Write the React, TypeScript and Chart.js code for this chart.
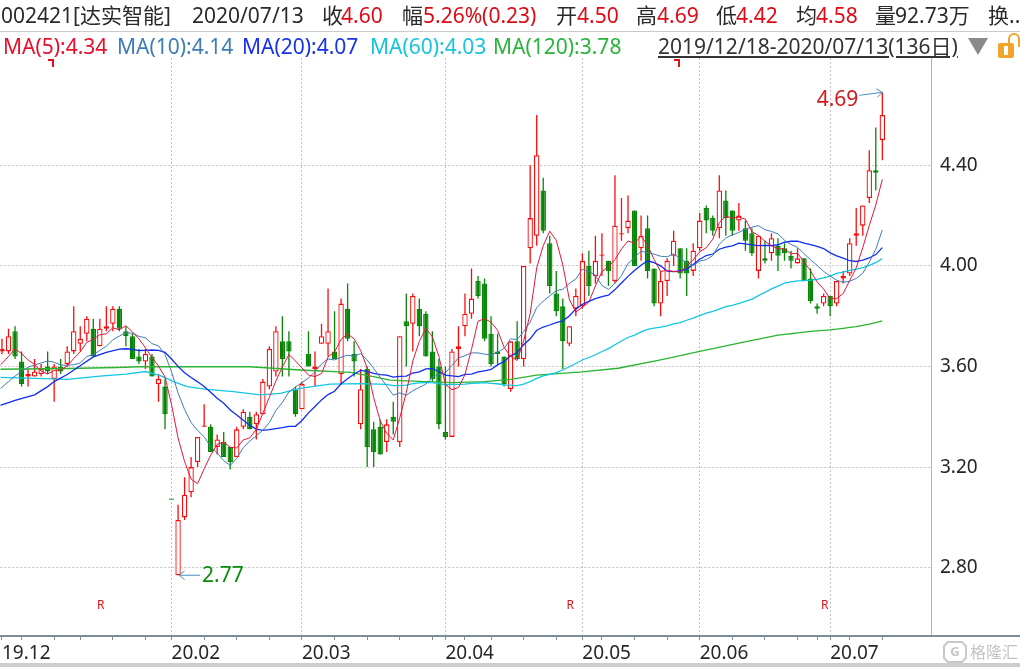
import React, { useEffect, useRef } from 'react';
import { Chart, registerables } from 'chart.js';

Chart.register(...registerables);

// ---------------- data ----------------
const TRADING_DAYS: [number, number, number[]][] = [
  [2019, 12, [18, 19, 20, 23, 24, 25, 26, 27, 30, 31]],
  [2020, 1, [2, 3, 6, 7, 8, 9, 10, 13, 14, 15, 16, 17, 20, 21, 22, 23]],
  [2020, 2, [3, 4, 5, 6, 7, 10, 11, 12, 13, 14, 17, 18, 19, 20, 21, 24, 25, 26, 27, 28]],
  [2020, 3, [2, 3, 4, 5, 6, 9, 10, 11, 12, 13, 16, 17, 18, 19, 20, 23, 24, 25, 26, 27, 30, 31]],
  [2020, 4, [1, 2, 3, 7, 8, 9, 10, 13, 14, 15, 16, 17, 20, 21, 22, 23, 24, 27, 28, 29, 30]],
  [2020, 5, [6, 7, 8, 11, 12, 13, 14, 15, 18, 19, 20, 21, 22, 25, 26, 27, 28, 29]],
  [2020, 6, [1, 2, 3, 4, 5, 8, 9, 10, 11, 12, 15, 16, 17, 18, 19, 22, 23, 24, 29, 30]],
  [2020, 7, [1, 2, 3, 6, 7, 8, 9, 10, 13]],
];

const MONTH_TICKS: [number, string][] = [
  [0, '19.12'], [26, '20.02'], [46, '20.03'], [68, '20.04'], [89, '20.05'], [107, '20.06'], [127, '20.07'],
];
const Y_TICKS = [2.8, 3.2, 3.6, 4.0, 4.4];

const OPEN = [
  3.66, 3.66, 3.74, 3.62, 3.56, 3.56, 3.57, 3.60, 3.55, 3.60,
  3.61, 3.66, 3.69, 3.73, 3.75, 3.68, 3.75, 3.77, 3.83, 3.74,
  3.72, 3.64, 3.62, 3.64, 3.53, 3.52, 3.07, 2.77, 3.00, 3.10,
  3.22, 3.36, 3.36, 3.28, 3.30, 3.28, 3.24, 3.36, 3.40, 3.37,
  3.41, 3.52, 3.58, 3.70, 3.70, 3.51, 3.43, 3.65, 3.59, 3.69,
  3.69, 3.66, 3.57, 3.83, 3.65, 3.37, 3.59, 3.35, 3.36, 3.30,
  3.40, 3.30, 3.78, 3.77, 3.83, 3.81, 3.66, 3.60, 3.34, 3.32,
  3.67, 3.76, 3.81, 3.94, 3.93, 3.73, 3.66, 3.64, 3.51, 3.70,
  3.63, 4.07, 4.12, 4.30, 4.09, 3.89, 3.84, 3.69, 3.83, 3.84,
  4.00, 3.96, 4.04, 4.02, 3.94, 4.125, 4.15, 4.22, 4.07, 4.15,
  3.99, 3.85, 3.94, 4.04, 4.07, 4.02, 3.98, 4.07, 4.23, 4.19,
  4.15, 4.26, 4.22, 4.18, 4.15, 4.13, 3.98, 4.03, 4.05, 4.08,
  4.07, 4.04, 4.01, 4.03, 3.95, 3.84, 3.85, 3.88, 3.85, 3.95,
  3.97, 4.12, 4.16, 4.27, 4.38, 4.50,
];
const HIGH = [
  3.71, 3.75, 3.76, 3.66, 3.59, 3.63, 3.61, 3.66, 3.61, 3.63,
  3.68, 3.84, 3.76, 3.80, 3.79, 3.79, 3.84, 3.84, 3.84, 3.76,
  3.73, 3.67, 3.67, 3.65, 3.57, 3.55, 3.07, 3.05, 3.16, 3.24,
  3.32, 3.45, 3.37, 3.33, 3.34, 3.28, 3.36, 3.43, 3.42, 3.42,
  3.55, 3.68, 3.76, 3.80, 3.74, 3.52, 3.54, 3.74, 3.66, 3.77,
  3.91, 3.82, 3.87, 3.93, 3.70, 3.59, 3.60, 3.38, 3.39, 3.39,
  3.46, 3.72, 3.89, 3.89, 3.87, 3.82, 3.74, 3.63, 3.60, 3.67,
  3.76, 3.89, 3.99, 3.96, 3.95, 3.80, 3.73, 3.64, 3.70, 3.78,
  4.00, 4.40, 4.60, 4.35, 4.12, 3.98, 3.87, 3.76, 3.91, 4.05,
  4.06, 4.12, 4.13, 4.02, 4.36, 4.27, 4.28, 4.22, 4.20, 4.20,
  3.99, 3.98, 4.03, 4.14, 4.07, 4.07, 4.09, 4.21, 4.24, 4.20,
  4.36, 4.30, 4.22, 4.25, 4.18, 4.15, 4.12, 4.10, 4.13, 4.11,
  4.09, 4.06, 4.07, 4.03, 3.99, 3.85, 3.89, 3.88, 3.94, 3.98,
  4.11, 4.23, 4.24, 4.46, 4.55, 4.69,
];
const LOW = [
  3.65, 3.65, 3.63, 3.52, 3.52, 3.56, 3.56, 3.57, 3.46, 3.57,
  3.60, 3.65, 3.66, 3.70, 3.64, 3.68, 3.74, 3.74, 3.74, 3.68,
  3.63, 3.61, 3.59, 3.56, 3.46, 3.35, 3.07, 2.77, 2.99, 3.08,
  3.20, 3.36, 3.26, 3.25, 3.24, 3.19, 3.24, 3.35, 3.35, 3.31,
  3.41, 3.51, 3.56, 3.56, 3.56, 3.40, 3.43, 3.60, 3.52, 3.69,
  3.64, 3.63, 3.53, 3.70, 3.56, 3.35, 3.20, 3.20, 3.25, 3.26,
  3.33, 3.28, 3.60, 3.66, 3.72, 3.64, 3.54, 3.35, 3.31, 3.32,
  3.60, 3.72, 3.79, 3.87, 3.70, 3.60, 3.61, 3.52, 3.50, 3.63,
  3.60, 4.01, 4.08, 4.13, 3.89, 3.80, 3.59, 3.68, 3.80, 3.83,
  3.88, 3.93, 3.96, 3.92, 3.93, 4.10, 4.13, 4.00, 4.02, 3.95,
  3.84, 3.80, 3.88, 4.00, 3.95, 3.88, 3.96, 4.06, 4.13, 4.12,
  4.11, 4.12, 4.12, 4.14, 4.06, 4.04, 3.95, 4.01, 4.02, 3.98,
  4.02, 3.99, 4.01, 3.94, 3.85, 3.81, 3.84, 3.80, 3.84, 3.93,
  3.96, 4.08, 4.12, 4.25, 4.30, 4.42,
];
const CLOSE = [
  3.67, 3.72, 3.64, 3.53, 3.57, 3.58, 3.59, 3.58, 3.60, 3.58,
  3.66, 3.74, 3.71, 3.79, 3.64, 3.75, 3.76, 3.83, 3.75, 3.72,
  3.63, 3.62, 3.65, 3.56, 3.55, 3.41, 3.07, 2.99, 3.09, 3.20,
  3.32, 3.365, 3.26, 3.31, 3.24, 3.22, 3.35, 3.42, 3.35, 3.41,
  3.54, 3.67, 3.74, 3.63, 3.66, 3.41, 3.53, 3.60, 3.60, 3.72,
  3.74, 3.63, 3.85, 3.71, 3.62, 3.51, 3.28, 3.26, 3.25, 3.37,
  3.38, 3.72, 3.76, 3.88, 3.76, 3.64, 3.55, 3.37, 3.32, 3.66,
  3.68, 3.81, 3.87, 3.88, 3.71, 3.61, 3.65, 3.53, 3.70, 3.63,
  4.00, 4.19, 4.44, 4.14, 3.92, 3.82, 3.70, 3.76, 3.88, 4.02,
  3.92, 4.02, 4.045, 3.98, 4.16, 4.13, 4.18, 4.00, 4.12, 3.98,
  3.85, 3.94, 4.02, 4.10, 3.97, 3.97, 4.06, 4.18, 4.18, 4.14,
  4.30, 4.19, 4.14, 4.20, 4.10, 4.05, 4.12, 4.02, 4.11, 4.04,
  4.05, 4.02, 4.03, 3.94, 3.86, 3.83, 3.88, 3.84, 3.94, 3.96,
  4.09, 4.13, 4.24, 4.38, 4.37, 4.60,
];

const MA5_HEAD = [[-0.26, 3.605], [1, 3.64], [2, 3.67], [3, 3.652]];
const MA10_HEAD = [[-0.26, 3.512], [1, 3.54], [2, 3.562], [3, 3.58], [4, 3.597], [5, 3.606], [6, 3.614], [7, 3.622], [8, 3.617]];
const MA20_HEAD = [[-0.26, 3.445], [2, 3.465], [5, 3.487], [7, 3.52], [8, 3.54], [10, 3.568], [12, 3.603], [14, 3.638], [16, 3.656], [18, 3.669]];
const MA60_HEAD = [
  [-0.26, 3.557], [5, 3.553], [10, 3.549], [15, 3.562], [19, 3.57], [22, 3.58], [24.3, 3.564], [26.3, 3.54],
  [28.4, 3.52], [31.4, 3.509], [35.5, 3.5], [39.6, 3.487], [42.7, 3.493], [45.7, 3.513], [50.3, 3.53], [55, 3.532],
];
const MA120_HEAD = [
  [-0.26, 3.589], [10, 3.592], [17.6, 3.596], [21, 3.599], [30, 3.599], [38, 3.599], [45.7, 3.586], [53.4, 3.577],
  [57, 3.56], [59.5, 3.546], [63, 3.542], [69, 3.536], [74, 3.54], [78, 3.549], [82, 3.566], [89, 3.579],
  [94.5, 3.593], [101, 3.626], [107, 3.66], [113, 3.693],
];

const R_MARK_IDX = [15, 87, 126];
const TOP_MARK_IDX = [8, 104];

// ---------------- derived ----------------
const DATES: Date[] = [];
TRADING_DAYS.forEach(([y, m, days]) => days.forEach((d) => DATES.push(new Date(y, m - 1, d))));
const weekNo = (d: Date) => Math.floor((d.getTime() / 86400000 + 3) / 7);
const WEEK_STARTS = DATES.map((d, i) => (i > 0 && weekNo(d) !== weekNo(DATES[i - 1]) ? i : -1)).filter((i) => i > 0);
const MONTH_SET = new Set(MONTH_TICKS.map(([i]) => i));
const MONTH_LABEL = new Map(MONTH_TICKS);
const X_TICKS = Array.from(new Set([...MONTH_TICKS.map(([i]) => i), ...WEEK_STARTS])).sort((a, b) => a - b);

function movingAverage(closes: number[], n: number, head: number[][]) {
  const pts = head.map(([x, y]) => ({ x, y }));
  for (let i = n - 1; i < closes.length; i++) {
    let s = 0;
    for (let k = i - n + 1; k <= i; k++) s += closes[k];
    pts.push({ x: i, y: s / n });
  }
  return pts;
}

const UP = '#ff0a0a';
const DOWN = '#078507';
const IS_UP = CLOSE.map((c, i) => c > OPEN[i] || (c === OPEN[i] && i > 0 && c >= CLOSE[i - 1]));

const AXIS_COLOR = '#7b8e9c';
const GRID_COLOR = '#c3c3c3';
const FONT = '"Noto Sans", "Noto Sans CJK SC", sans-serif';

function arrow(ctx: CanvasRenderingContext2D, x0: number, y0: number, x1: number, y1: number) {
  ctx.beginPath();
  ctx.moveTo(x0, y0);
  ctx.lineTo(x1, y1);
  const a = Math.atan2(y1 - y0, x1 - x0);
  const L = 7;
  ctx.moveTo(x1 - L * Math.cos(a - 0.65), y1 - L * Math.sin(a - 0.65));
  ctx.lineTo(x1, y1);
  ctx.lineTo(x1 - L * Math.cos(a + 0.65), y1 - L * Math.sin(a + 0.65));
  ctx.stroke();
}

const overlayPlugin = {
  id: 'overlay',
  afterDraw(chart: any) {
    const { ctx, chartArea, scales } = chart;
    const xs = scales.x;
    const ys = scales.y;
    ctx.save();
    // axis line across the whole width
    ctx.strokeStyle = AXIS_COLOR;
    ctx.lineWidth = 2;
    ctx.beginPath();
    ctx.moveTo(0, chartArea.bottom + 1);
    ctx.lineTo(chart.width, chartArea.bottom + 1);
    ctx.stroke();
    // bottom strip
    ctx.fillStyle = '#cdcdcd';
    ctx.fillRect(0, chart.height - 4, chart.width, 4);

    // R markers
    ctx.fillStyle = '#d8151b';
    ctx.font = `12px ${FONT}`;
    ctx.textAlign = 'center';
    ctx.textBaseline = 'middle';
    R_MARK_IDX.forEach((i) => ctx.fillText('R', xs.getPixelForValue(i) + 1, chartArea.bottom - 29));

    // top markers
    ctx.strokeStyle = '#e0101a';
    ctx.lineWidth = 2;
    TOP_MARK_IDX.forEach((i) => {
      const px = Math.round(xs.getPixelForValue(i)) - 1;
      ctx.beginPath();
      ctx.moveTo(px - 5, chartArea.top + 2);
      ctx.lineTo(px, chartArea.top + 2);
      ctx.lineTo(px, chartArea.top + 9);
      ctx.stroke();
    });

    // extremes
    let iMax = 0;
    let iMin = 0;
    HIGH.forEach((h, i) => { if (h > HIGH[iMax]) iMax = i; });
    LOW.forEach((l, i) => { if (l < LOW[iMin]) iMin = i; });
    const hx = xs.getPixelForValue(iMax);
    const hy = ys.getPixelForValue(HIGH[iMax]);
    const lx = xs.getPixelForValue(iMin);
    const ly = ys.getPixelForValue(LOW[iMin]);
    ctx.strokeStyle = '#4a8fbd';
    ctx.lineWidth = 1;
    arrow(ctx, hx - 23, hy + 3, hx, hy);
    arrow(ctx, lx + 22, ly, lx + 1, ly);
    ctx.font = `21px ${FONT}`;
    ctx.textBaseline = 'middle';
    ctx.fillStyle = '#d41a1a';
    ctx.textAlign = 'right';
    ctx.fillText(HIGH[iMax].toFixed(2), hx - 24, hy + 8);
    ctx.fillStyle = '#0a8a0a';
    ctx.textAlign = 'left';
    ctx.fillText(LOW[iMin].toFixed(2), lx + 24, ly + 1);

    // watermark
    ctx.strokeStyle = '#c9c9c9';
    ctx.lineWidth = 2;
    const wx = chartArea.right + 12;
    const wy = chartArea.bottom + 7;
    ctx.beginPath();
    ctx.moveTo(wx + 4, wy);
    ctx.lineTo(wx + 18, wy);
    ctx.lineTo(wx + 22, wy + 4);
    ctx.lineTo(wx + 22, wy + 16);
    ctx.lineTo(wx + 18, wy + 20);
    ctx.lineTo(wx + 4, wy + 20);
    ctx.lineTo(wx, wy + 16);
    ctx.lineTo(wx, wy + 4);
    ctx.closePath();
    ctx.stroke();
    ctx.fillStyle = '#c4c4c4';
    ctx.font = `bold 13px ${FONT}`;
    ctx.textAlign = 'center';
    ctx.fillText('G', wx + 11, wy + 10);
    ctx.font = `16px "Noto Sans CJK SC", sans-serif`;
    ctx.textAlign = 'left';
    ctx.fillText('格隆汇', wx + 26, wy + 10);
    ctx.restore();
  },
};

const DARK = '#2a2a2a';
const RED = '#dc0b16';

export default function App() {
  const ref = useRef<HTMLCanvasElement>(null);

  useEffect(() => {
    const canvas = ref.current;
    if (!canvas) return;
    Chart.defaults.font.family = FONT;
    const chart = new Chart(canvas, {
      type: 'bar',
      data: {
        datasets: [
          { type: 'line', label: 'MA5', data: movingAverage(CLOSE, 5, MA5_HEAD), borderColor: '#e3173e', borderWidth: 1, pointRadius: 0, tension: 0, order: 1 },
          { type: 'line', label: 'MA10', data: movingAverage(CLOSE, 10, MA10_HEAD), borderColor: '#3f7db5', borderWidth: 1, pointRadius: 0, tension: 0, order: 1 },
          { type: 'line', label: 'MA20', data: movingAverage(CLOSE, 20, MA20_HEAD), borderColor: '#0f2df2', borderWidth: 1.3, pointRadius: 0, tension: 0, order: 1 },
          { type: 'line', label: 'MA60', data: movingAverage(CLOSE, 60, MA60_HEAD), borderColor: '#12c6e2', borderWidth: 1.3, pointRadius: 0, tension: 0, order: 1 },
          { type: 'line', label: 'MA120', data: movingAverage(CLOSE, 120, MA120_HEAD), borderColor: '#2bb42f', borderWidth: 1.3, pointRadius: 0, tension: 0, order: 1 },
          {
            type: 'bar', label: 'body',
            data: OPEN.map((o, i) => ({ x: i, y: [o, CLOSE[i]] })),
            backgroundColor: IS_UP.map((u) => (u ? '#ffffff' : DOWN)),
            borderColor: IS_UP.map((u) => (u ? UP : DOWN)),
            borderWidth: 1.3, borderSkipped: false, grouped: false,
            barThickness: 5.4, maxBarThickness: 5.4, minBarLength: 1.2, inflateAmount: 0, order: 2,
          },
          {
            type: 'bar', label: 'wick',
            data: LOW.map((l, i) => ({ x: i, y: [l, HIGH[i]] })),
            backgroundColor: IS_UP.map((u) => (u ? UP : DOWN)),
            borderWidth: 0, grouped: false,
            barThickness: 1.3, maxBarThickness: 1.3, inflateAmount: 0, order: 3,
          },
        ] as any,
      },
      options: {
        animation: false,
        responsive: false,
        events: [],
        layout: { padding: { top: 58, left: 0, right: 0, bottom: 0 } },
        plugins: { legend: { display: false }, tooltip: { enabled: false } },
        scales: {
          x: {
            type: 'linear',
            min: -0.26,
            max: 142.62,
            offset: false,
            afterBuildTicks: (s: any) => { s.ticks = X_TICKS.map((v) => ({ value: v })); },
            afterFit: (s: any) => { s.height = 32; },
            grid: {
              offset: false,
              color: (c: any) => (c.tick && MONTH_SET.has(c.tick.value) && c.tick.value !== 0 ? GRID_COLOR : 'rgba(0,0,0,0)'),
              lineWidth: 1,
              drawTicks: true,
              tickLength: 5,
              tickColor: AXIS_COLOR,
              tickWidth: 1,
            },
            border: { display: false, dash: [2, 2] },
            ticks: {
              autoSkip: false, maxRotation: 0, minRotation: 0, align: 'start', padding: 2,
              color: '#262626', font: { size: 19 },
              callback: (v: any) => MONTH_LABEL.get(Number(v)) ?? '',
            },
          },
          y: {
            type: 'linear',
            position: 'right',
            min: 2.5324,
            max: 4.8266,
            afterBuildTicks: (s: any) => { s.ticks = Y_TICKS.map((v) => ({ value: v })); },
            afterFit: (s: any) => { s.width = 88; },
            grid: { color: GRID_COLOR, drawTicks: false, lineWidth: 1 },
            border: { display: true, color: '#b4b4b4', width: 1, dash: [2, 2] },
            ticks: { padding: 8, color: '#262626', font: { size: 19 }, callback: (v: any) => Number(v).toFixed(2) },
          },
        },
      } as any,
      plugins: [overlayPlugin],
    });
    return () => chart.destroy();
  }, []);

  const row1: [number, string, string][] = [
    [1, '002421[达实智能]', DARK], [192, '2020/07/13', DARK],
    [322, '收', DARK], [341, '4.60', RED],
    [402, '幅', DARK], [423, '5.26%(0.23)', RED],
    [556, '开', DARK], [577, '4.50', RED],
    [636, '高', DARK], [657, '4.69', RED],
    [716, '低', DARK], [736, '4.42', RED],
    [796, '均', DARK], [816, '4.58', RED],
    [875, '量', DARK], [895, '92.73万', DARK],
    [988, '换...', DARK],
  ];
  const row2: [number, string, string][] = [
    [3, 'MA(5):4.34', '#e8102a'],
    [117, 'MA(10):4.14', '#3f7db8'],
    [242, 'MA(20):4.07', '#1632e8'],
    [370, 'MA(60):4.03', '#16c4dc'],
    [493, 'MA(120):3.78', '#2ab43c'],
  ];

  const textStyle = (left: number, top: number, color: string): React.CSSProperties => ({
    position: 'absolute', left, top, color, fontSize: 21, lineHeight: '21px', whiteSpace: 'nowrap',
  });

  return (
    <div style={{ position: 'fixed', left: 0, top: 0, width: 1020, height: 667, background: '#ffffff', overflow: 'hidden', fontFamily: FONT }}>
      <canvas ref={ref} width={1020} height={667} style={{ position: 'absolute', left: 0, top: 0, width: 1020, height: 667 }} />
      {row1.map(([l, t, c], k) => (
        <span key={'a' + k} style={textStyle(l, 5, c)}>{t}</span>
      ))}
      <div style={{ position: 'absolute', left: 0, top: 31, width: 1020, height: 1, background: '#cacaca' }} />
      {row2.map(([l, t, c], k) => (
        <span key={'b' + k} style={textStyle(l, 36, c)}>{t}</span>
      ))}
      <span style={{ ...textStyle(658, 36, '#333333'), textDecoration: 'underline' }}>2019/12/18-2020/07/13(136日)</span>
      <div style={{ position: 'absolute', left: 968, top: 38, width: 0, height: 0, borderLeft: '10px solid transparent', borderRight: '10px solid transparent', borderTop: '17px solid #8a8a8a' }} />
      <div style={{ position: 'absolute', left: 1008, top: 33, width: 12, height: 14, border: '2px solid #f2a42a', borderBottom: 'none', borderRadius: '7px 7px 0 0', boxSizing: 'border-box' }} />
      <div style={{ position: 'absolute', left: 998, top: 43, width: 16, height: 15, background: '#f2a42a', borderRadius: 2 }} />
      <div style={{ position: 'absolute', left: 1004, top: 46, width: 4, height: 9, background: '#ffffff' }} />
    </div>
  );
}
